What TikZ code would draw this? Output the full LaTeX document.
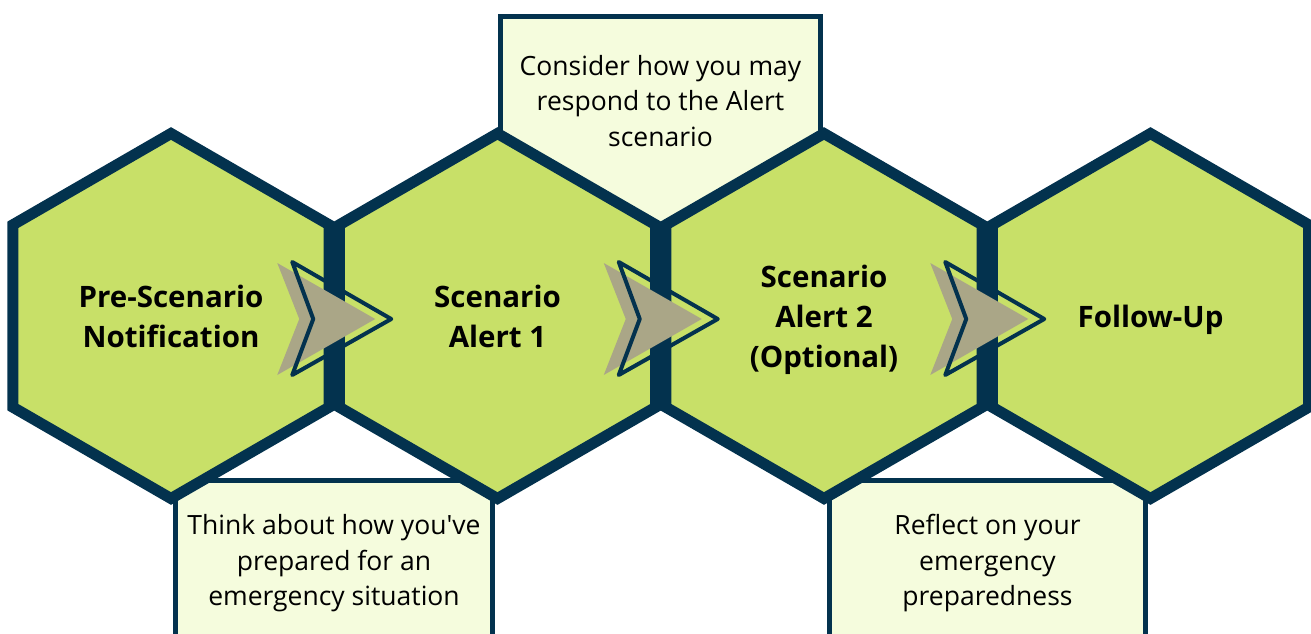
\documentclass[tikz,border=0pt]{standalone}
\usepackage{fontspec}
\setmainfont{Open Sans}
\usepackage{xcolor}
\usetikzlibrary{shapes.geometric}
\usetikzlibrary{calc}
\definecolor{navy}{RGB}{3,50,78}
\definecolor{lime}{RGB}{200,224,104}
\definecolor{pale}{RGB}{245,252,221}
\definecolor{khaki}{RGB}{170,166,135}

\begin{document}
\begin{tikzpicture}[x=1pt,y=-1pt,
		hexa/.style={regular polygon, regular polygon sides=6, shape border rotate=90, minimum size=365pt, inner sep=0pt, draw=navy, line width=11pt, fill=lime, font=\fontsize{29.5}{40}\selectfont\bfseries, align=center, text depth=-4pt},
		notebox/.style={rectangle, draw=navy, line width=5pt, fill=pale, inner sep=0pt},
		notetext/.style={align=center, inner sep=0pt, font=\fontsize{26.5}{35.5}\selectfont}]
		\clip (0,0) rectangle (1311,634);

		% Note boxes, behind the steps
		\node (alertbox) at (660.5,168) [notebox, minimum width=320pt, minimum height=303pt] {};
		\node (prepbox) at (334,570) [notebox, minimum width=317pt, minimum height=180pt] {};
		\node (reflectbox) at (987.5,570) [notebox, minimum width=316pt, minimum height=180pt] {};

		\node (alerttxt) at (660.5,101) [notetext] {Consider how you may\\respond to the Alert\\scenario};
		\node (preptxt) at (334,563.5) [notetext] {Think about how you\textquotesingle ve\\prepared for an\\emergency situation};
		\node (reflecttxt) at (987.5,563.5) [notetext] {Reflect on your\\emergency\\preparedness};

		% The four steps
		\node (h1) at (171,316) [hexa] {Pre-Scenario\\Notification};
		\node (h2) at (497.5,316) [hexa] {Scenario\\Alert 1};
		\node (h3) at (824,316) [hexa] {Scenario\\Alert 2\\(Optional)};
		\node (h4) at (1150.5,316) [hexa] {Follow-Up};

		% Chevrons between the steps
		\foreach \a/\b in {h1/h2, h2/h3, h3/h4}{
			\coordinate (m) at ($(\a)!0.5!(\b)$);
			\fill[khaki] ([shift={(-57,-53)}]m) -- ([shift={(-35,3)}]m) -- ([shift={(-57,59)}]m) -- ([shift={(41,3)}]m) -- cycle;
			\draw[navy, line width=4pt, line join=round] ([shift={(-42,-54)}]m) -- ([shift={(-21,3)}]m) -- ([shift={(-42,59)}]m) -- ([shift={(57,3)}]m) -- cycle;
		}
\end{tikzpicture}
\end{document}
